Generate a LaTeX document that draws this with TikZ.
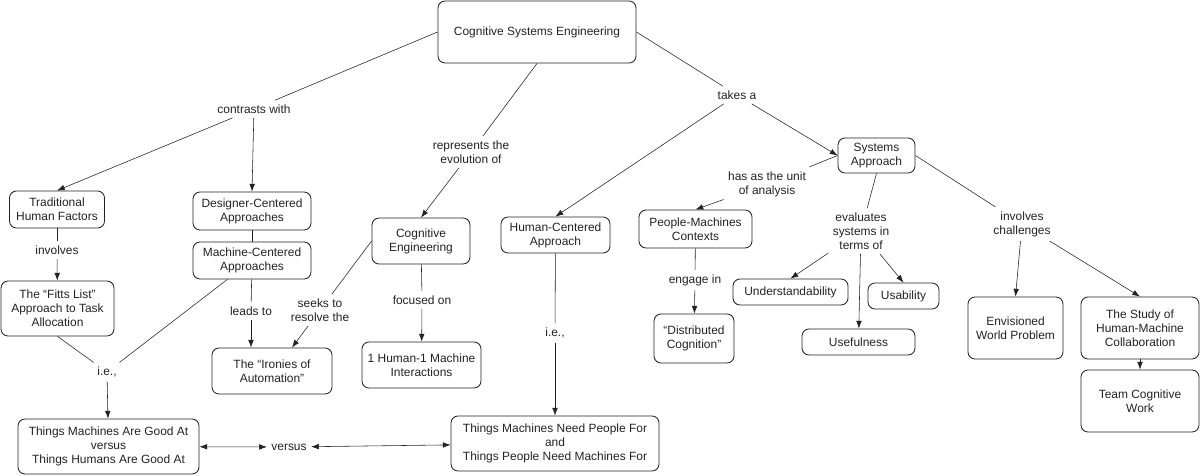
\documentclass[tikz,border=0pt]{standalone}
\usepackage{fontspec}
\setmainfont{Liberation Sans}
\usetikzlibrary{arrows.meta}
\definecolor{ink}{HTML}{222222}

\begin{document}
\begin{tikzpicture}[x=0.025cm,y=-0.025cm,
	every node/.style={font=\fontsize{8.5}{10}\selectfont,text=ink,align=center},
	concept/.style={draw=ink,line width=0.6pt,rounded corners=5pt,inner sep=2pt},
	phrase/.style={inner sep=3pt},
	>={Latex[length=5.5pt,width=4pt]}]
			\useasboundingbox (0,0) rectangle (1200,475);
			\node[concept,minimum width=4.95cm,minimum height=1.55cm] (CogSysEng) at (537,32) {Cognitive Systems Engineering};
			\node[concept,minimum width=2.375cm,minimum height=0.925cm] (TradHF) at (57,209.5) {Traditional\\Human Factors};
			\node[concept,minimum width=2.95cm,minimum height=0.95cm] (DesignerCentered) at (252,211) {Designer-Centered\\Approaches};
			\node[concept,minimum width=2.95cm,minimum height=0.925cm] (MachineCentered) at (252,260.5) {Machine-Centered\\Approaches};
			\node[concept,minimum width=2.825cm,minimum height=1.375cm] (FittsList) at (57.5,308.5) {The “Fitts List”\\Approach to Task\\Allocation};
			\node[concept,minimum width=2.45cm,minimum height=1.15cm] (CogEng) at (421,241) {Cognitive\\Engineering};
			\node[concept,minimum width=2.725cm,minimum height=0.9cm] (HumanCentered) at (555.5,235) {Human-Centered\\Approach};
			\node[concept,minimum width=2.825cm,minimum height=0.95cm] (PeopleMachines) at (695.5,229) {People-Machines\\Contexts};
			\node[concept,minimum width=1.925cm,minimum height=0.875cm] (SysApproach) at (876.5,155.5) {Systems\\Approach};
			\node[concept,minimum width=2.875cm,minimum height=0.65cm] (Understand) at (790.5,292) {Understandability};
			\node[concept,minimum width=1.775cm,minimum height=0.65cm] (Usability) at (903.5,296) {Usability};
			\node[concept,minimum width=2.825cm,minimum height=0.65cm] (Usefulness) at (858.5,342) {Usefulness};
			\node[concept,minimum width=2.375cm,minimum height=1.55cm] (Envisioned) at (1015.5,328) {Envisioned\\World Problem};
			\node[concept,minimum width=2.95cm,minimum height=1.55cm] (StudyHMC) at (1140,328) {The Study of\\Human-Machine\\Collaboration};
			\node[concept,minimum width=2.95cm,minimum height=1.55cm] (TeamWork) at (1140,401) {Team Cognitive\\Work};
			\node[concept,minimum width=3.0cm,minimum height=1.15cm] (Ironies) at (272,371) {The “Ironies of\\Automation”};
			\node[concept,minimum width=2.975cm,minimum height=1.15cm] (OneToOne) at (421.5,365) {1 Human-1 Machine\\Interactions};
			\node[concept,minimum width=2.0cm,minimum height=1.225cm] (DistCog) at (694,338.5) {“Distributed\\Cognition”};
			\node[concept,minimum width=4.525cm,minimum height=1.375cm] (GoodAt) at (108.5,446.5) {Things Machines Are Good At\\versus\\Things Humans Are Good At};
			\node[concept,minimum width=5.2cm,minimum height=1.375cm] (NeedFor) at (555,443.5) {Things Machines Need People For\\and\\Things People Need Machines For};
			
			\node[phrase] (ContrastsWith) at (254,109) {contrasts with};
			\node[phrase] (Represents) at (471,152) {represents the\\evolution of};
			\node[phrase] (TakesA) at (737,95) {takes a};
			\node[phrase] (UnitOf) at (767,184) {has as the unit\\of analysis};
			\node[phrase] (Evaluates) at (861,231) {evaluates\\systems in\\terms of};
			\node[phrase] (Challenges) at (1022,224) {involves\\challenges};
			\node[phrase] (Involves) at (57,250) {involves};
			\node[phrase] (LeadsTo) at (251,311) {leads to};
			\node[phrase] (SeeksTo) at (320,310) {seeks to\\resolve the};
			\node[phrase] (FocusedOn) at (422,300) {focused on};
			\node[phrase] (IeLeft) at (107,372) {i.e.,};
			\node[phrase] (IeMid) at (555,333) {i.e.,};
			\node[phrase] (EngageIn) at (695,280) {engage in};
			\node[phrase] (Versus) at (289,447) {versus};
			
			\draw[draw=ink] (CogSysEng.west) to (ContrastsWith);
			\draw[->,draw=ink] (ContrastsWith) to (TradHF.north);
			\draw[->,draw=ink] (ContrastsWith) to (DesignerCentered.north);
			\draw[draw=ink] (CogSysEng.south) to (Represents);
			\draw[->,draw=ink] (Represents) to (CogEng.north);
			\draw[draw=ink] (CogSysEng.east) to (TakesA);
			\draw[->,draw=ink] (TakesA) to (HumanCentered.north);
			\draw[->,draw=ink] (TakesA) to (SysApproach.west);
			\draw[draw=ink] (SysApproach.west) to (UnitOf);
			\draw[->,draw=ink] (UnitOf) to (PeopleMachines.north);
			\draw[draw=ink] (SysApproach.south) to (Evaluates);
			\draw[->,draw=ink] (Evaluates) to (Understand.north);
			\draw[->,draw=ink] (Evaluates) to (Usefulness);
			\draw[->,draw=ink] (Evaluates) to (Usability.north);
			\draw[draw=ink] (SysApproach.east) to (Challenges);
			\draw[->,draw=ink] (Challenges) to (Envisioned.north);
			\draw[->,draw=ink] (Challenges) to (StudyHMC.north);
			\draw[->,draw=ink] (StudyHMC) to (TeamWork);
			\draw[draw=ink] (TradHF) to (Involves);
			\draw[->,draw=ink] (Involves) to (FittsList);
			\draw[draw=ink] (DesignerCentered) to (MachineCentered);
			\draw[draw=ink] (MachineCentered) to (LeadsTo);
			\draw[->,draw=ink] (LeadsTo) to (LeadsTo |- Ironies.north);
			\draw[draw=ink] (CogEng.west) to (SeeksTo);
			\draw[->,draw=ink] (SeeksTo) to ([xshift=0.5cm]Ironies.north);
			\draw[draw=ink] (CogEng) to (FocusedOn);
			\draw[->,draw=ink] (FocusedOn) to (OneToOne);
			\draw[draw=ink] (FittsList.south) to (IeLeft);
			\draw[draw=ink] (MachineCentered) to (IeLeft);
			\draw[->,draw=ink] (IeLeft) to (GoodAt);
			\draw[draw=ink] (HumanCentered) to (IeMid);
			\draw[->,draw=ink] (IeMid) to (NeedFor);
			\draw[draw=ink] (PeopleMachines) to (EngageIn);
			\draw[->,draw=ink] (EngageIn) to (DistCog);
			\draw[<->,draw=ink] (GoodAt) to (Versus);
			\draw[<->,draw=ink] (Versus) to (NeedFor);
\end{tikzpicture}
\end{document}
